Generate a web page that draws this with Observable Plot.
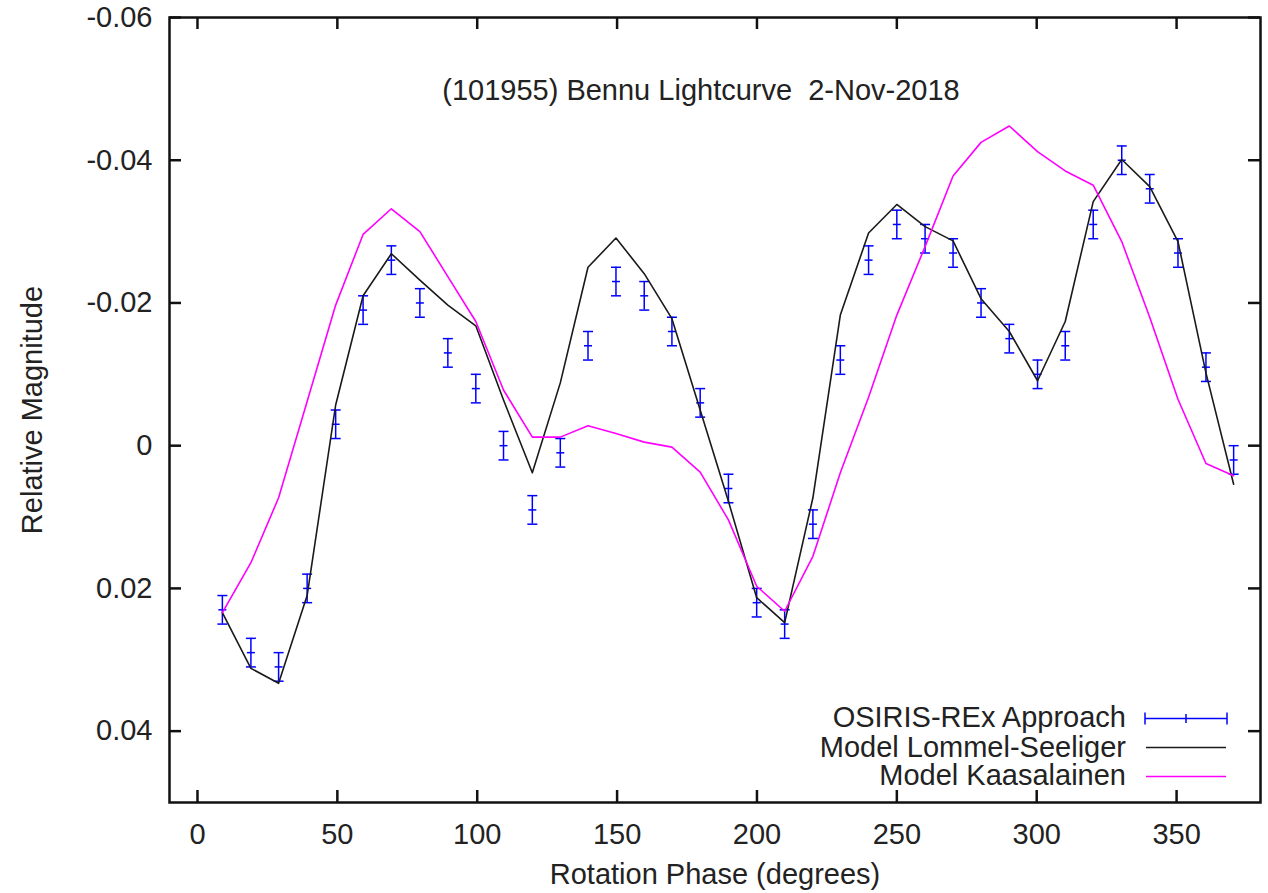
<!DOCTYPE html>
<html><head><meta charset="utf-8">
<script src="https://cdn.jsdelivr.net/npm/d3@7"></script>
<script src="https://cdn.jsdelivr.net/npm/@observablehq/plot@0.6"></script>
<style>
body{margin:0;background:#fff;}
#wrap{position:relative;width:1268px;height:893px;font-family:"Liberation Sans",Arial,sans-serif;}
.leg{position:absolute;right:142px;height:28px;line-height:28px;font-size:29px;color:#222;white-space:nowrap;overflow:visible;}
.sw{position:absolute;left:1140px;width:92px;height:15px;}
</style></head><body><div id="wrap"></div>
<script>
// Rotation phase (degrees)
const phase = [8.9, 19.1, 29.0, 39.2, 49.4, 59.2, 69.3, 79.5, 89.5, 99.5, 109.4, 119.7, 129.7, 139.6, 149.6, 159.7, 169.6, 179.7, 189.8, 199.9, 209.9, 220.0, 229.8, 239.9, 250.0, 260.1, 270.1, 280.1, 290.2, 300.3, 310.2, 320.2, 330.4, 340.4, 350.5, 360.5, 370.4];
// OSIRIS-REx Approach (relative magnitude), error +/- 0.002
const observed = [0.023, 0.029, 0.031, 0.020, -0.003, -0.019, -0.026, -0.020, -0.013, -0.008, 0.000, 0.009, 0.001, -0.014, -0.023, -0.021, -0.016, -0.006, 0.006, 0.022, 0.025, 0.011, -0.012, -0.026, -0.031, -0.029, -0.027, -0.020, -0.015, -0.010, -0.014, -0.031, -0.040, -0.036, -0.027, -0.011, 0.002];
const obsError = 0.002;
// Model Lommel-Seeliger
const lommelSeeliger = [0.0234, 0.0312, 0.0333, 0.0210, -0.0057, -0.0210, -0.0269, -0.0232, -0.0197, -0.0168, -0.0064, 0.0038, -0.0088, -0.0250, -0.0291, -0.0241, -0.0178, -0.0050, 0.0078, 0.0213, 0.0248, 0.0073, -0.0183, -0.0298, -0.0338, -0.0307, -0.0287, -0.0206, -0.0160, -0.0091, -0.0174, -0.0342, -0.0401, -0.0363, -0.0286, -0.0102, 0.0054];
// Model Kaasalainen
const kaasalainen = [0.0234, 0.0164, 0.0073, -0.0062, -0.0197, -0.0296, -0.0332, -0.0300, -0.0237, -0.0174, -0.0078, -0.0012, -0.0012, -0.0028, -0.0017, -0.0005, 0.0002, 0.0037, 0.0104, 0.0197, 0.0232, 0.0155, 0.0038, -0.0068, -0.0183, -0.0279, -0.0378, -0.0425, -0.0448, -0.0412, -0.0385, -0.0365, -0.0286, -0.0180, -0.0065, 0.0025, 0.0042];

const xTicks = [0, 50, 100, 150, 200, 250, 300, 350];
const yTicks = [-0.06, -0.04, -0.02, 0, 0.02, 0.04];
const titleText = "(101955) Bennu Lightcurve\u00a0\u00a02-Nov-2018";
const xLabel = "Rotation Phase (degrees)";
const yLabel = "Relative Magnitude";
const legendLabels = ["OSIRIS-REx Approach", "Model Lommel-Seeliger", "Model Kaasalainen"];

const xDomain = [-10, 380], yDomain = [0.05, -0.06];
const W = 1268, H = 893, mL = 169, mR = 8, mT = 17, mB = 91;
const xPerPx = (xDomain[1] - xDomain[0]) / (W - mL - mR);
const yPerPx = (yDomain[0] - yDomain[1]) / (H - mT - mB);
const tickLen = 12;
const FS = 29;

const obs = phase.map((p, i) => ({p, v: observed[i], lo: observed[i] - obsError, hi: observed[i] + obsError}));
const ls = phase.map((p, i) => ({p, v: lommelSeeliger[i]}));
const ka = phase.map((p, i) => ({p, v: kaasalainen[i]}));

const hLine = (half) => ({draw(ctx) { ctx.moveTo(-half, 0); ctx.lineTo(half, 0); }});
const fmtY = d => Math.abs(d) < 1e-9 ? "0" : d.toFixed(2);
const font = "'Liberation Sans', Arial, sans-serif";

const chart = Plot.plot({
  width: W, height: H,
  marginLeft: mL, marginRight: mR, marginTop: mT, marginBottom: mB,
  x: {domain: xDomain},
  y: {domain: yDomain},
  style: {fontFamily: font, fontSize: FS + "px", color: "#222", background: "white"},
  marks: [
    Plot.axisX({ticks: xTicks, tickSize: 0, tickPadding: 21, fontSize: FS, label: null, tickFormat: d => String(d)}),
    Plot.axisY({ticks: yTicks, tickSize: 0, tickPadding: 17, fontSize: FS, label: null, tickFormat: fmtY}),
    Plot.ruleX(xTicks, {x: d => d, y1: yDomain[0], y2: yDomain[0] - tickLen * yPerPx, stroke: "#111", strokeWidth: 2.5}),
    Plot.ruleX(xTicks, {x: d => d, y1: yDomain[1], y2: yDomain[1] + tickLen * yPerPx, stroke: "#111", strokeWidth: 2.5}),
    Plot.ruleY(yTicks, {y: d => d, x1: xDomain[0], x2: xDomain[0] + tickLen * xPerPx, stroke: "#111", strokeWidth: 2.5}),
    Plot.ruleY(yTicks, {y: d => d, x1: xDomain[1], x2: xDomain[1] - tickLen * xPerPx, stroke: "#111", strokeWidth: 2.5}),
    Plot.ruleX(obs, {x: "p", y1: "lo", y2: "hi", stroke: "#0000ff", strokeWidth: 1.5}),
    Plot.dot(obs, {x: "p", y: "lo", symbol: hLine(5), fill: "none", stroke: "#0000ff", strokeWidth: 1.5}),
    Plot.dot(obs, {x: "p", y: "hi", symbol: hLine(5), fill: "none", stroke: "#0000ff", strokeWidth: 1.5}),
    Plot.dot(obs, {x: "p", y: "v", symbol: hLine(4), fill: "none", stroke: "#0000ff", strokeWidth: 1.5}),
    Plot.line(ls, {x: "p", y: "v", stroke: "#1a1a1a", strokeWidth: 1.6}),
    Plot.line(ka, {x: "p", y: "v", stroke: "#ff00ff", strokeWidth: 1.6}),
    Plot.frame({stroke: "#111", strokeWidth: 2.5}),
    Plot.text([titleText], {text: d => d, frameAnchor: "top", dx: -14, dy: 82, lineAnchor: "bottom", textAnchor: "middle", fontSize: FS, fill: "#222"}),
    Plot.text([xLabel], {text: d => d, frameAnchor: "bottom", dx: 0, dy: 81, lineAnchor: "bottom", textAnchor: "middle", fontSize: FS, fill: "#222"}),
    Plot.text([yLabel], {text: d => d, frameAnchor: "left", dx: -137, rotate: -90, lineAnchor: "middle", textAnchor: "middle", fontSize: FS, fill: "#222"})
  ]
});
const wrap = document.getElementById("wrap");
wrap.appendChild(chart);

// Legend overlay (inside plot frame, bottom right)
const rowTops = [703, 732.5, 761];
const swatches = [
  `<line x1="5" y1="7.5" x2="87" y2="7.5" stroke="#0000ff" stroke-width="1.5"/><line x1="5" y1="1.5" x2="5" y2="13.5" stroke="#0000ff" stroke-width="1.5"/><line x1="87" y1="1.5" x2="87" y2="13.5" stroke="#0000ff" stroke-width="1.5"/><line x1="46" y1="3" x2="46" y2="12" stroke="#0000ff" stroke-width="1.5"/>`,
  `<line x1="6" y1="7.5" x2="86" y2="7.5" stroke="#1a1a1a" stroke-width="1.6"/>`,
  `<line x1="6" y1="7.5" x2="86" y2="7.5" stroke="#ff00ff" stroke-width="1.6"/>`
];
const swatchCenters = [718.3, 747.3, 776.3];
legendLabels.forEach((lab, i) => {
  const t = document.createElement("div");
  t.className = "leg";
  t.style.top = rowTops[i] + "px";
  t.textContent = lab;
  wrap.appendChild(t);
  const s = document.createElementNS("http://www.w3.org/2000/svg", "svg");
  s.setAttribute("class", "sw");
  s.setAttribute("width", "92"); s.setAttribute("height", "15");
  s.style.top = (swatchCenters[i] - 7.5) + "px";
  s.innerHTML = swatches[i];
  wrap.appendChild(s);
});
</script></body></html>
